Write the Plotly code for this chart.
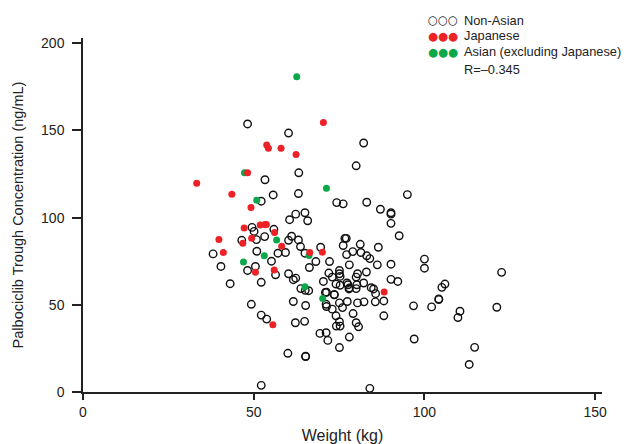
import plotly.graph_objects as go

# Non-Asian (weight kg, concentration ng/mL)
nonasian_w = [48.2, 60.2, 82.2, 80.0, 63.2, 53.3, 63.1, 55.7, 95.0, 52.2, 74.3, 76.2, 83.1, 87.1,
              90.2, 90.2, 65.0, 62.3, 60.5, 65.8, 90.2, 49.5, 50.1, 55.9, 92.6, 61.1, 53.2, 76.7,
              77.1, 46.5, 50.8, 60.2, 63.1, 81.2, 76.2, 86.5, 63.7, 69.6, 50.9, 38.1, 57.1, 59.3,
              65.0, 79.0, 81.4, 77.2, 83.1, 84.0, 100.0, 68.2, 55.2, 72.2, 40.4, 50.5, 66.3, 78.0,
              86.2, 90.2, 100.0, 48.2, 75.1, 122.6, 60.2, 72.0, 75.1, 56.4, 62.3, 61.6, 73.0, 75.3,
              80.0, 80.4, 83.0, 90.2, 92.2, 70.4, 43.1, 52.2, 74.1, 77.3, 75.3, 82.2, 106.0, 105.1,
              63.8, 65.1, 66.1, 77.9, 80.0, 84.4, 85.1, 71.3, 73.6, 73.6, 85.7, 104.2, 104.2, 88.1,
              77.4, 75.1, 80.4, 85.6, 82.3, 61.6, 49.3, 71.2, 71.3, 65.2, 76.0, 73.0, 96.8, 102.1,
              121.2, 110.4, 109.8, 52.2, 74.1, 88.1, 79.1, 53.8, 64.9, 62.2, 75.1, 80.0, 74.2, 75.3,
              80.7, 69.4, 71.2, 71.7, 78.0, 97.0, 75.1, 114.7, 60.0, 65.2, 65.2, 113.1, 52.2, 84.0,
              78.0, 80.2, 77.6, 71.0]
nonasian_c = [153.7, 148.5, 142.8, 129.7, 125.7, 121.7, 113.8, 113.0, 113.2, 109.4, 108.6, 107.9, 108.8, 104.8,
              102.8, 102.0, 102.8, 102.0, 98.8, 98.2, 96.7, 94.4, 92.1, 93.3, 89.6, 89.3, 89.1, 88.1,
              88.1, 87.0, 87.4, 87.0, 87.2, 84.7, 84.0, 83.0, 83.4, 83.0, 80.7, 79.2, 79.6, 80.0,
              79.6, 80.5, 80.0, 78.8, 78.1, 76.5, 76.2, 74.8, 75.0, 74.8, 72.0, 72.0, 71.4, 72.9,
              72.9, 73.3, 71.0, 69.7, 69.7, 68.6, 67.8, 68.2, 67.8, 67.2, 65.3, 64.4, 65.9, 66.3,
              65.9, 67.8, 68.8, 64.6, 63.4, 63.4, 62.1, 62.9, 61.9, 62.5, 61.2, 62.5, 61.9, 60.0,
              59.3, 58.3, 58.1, 59.1, 59.3, 59.8, 59.1, 57.2, 55.7, 55.9, 56.4, 53.4, 53.0, 52.2,
              51.9, 51.1, 51.1, 51.7, 51.7, 51.9, 50.3, 50.3, 49.0, 49.6, 48.4, 47.5, 49.4, 48.8,
              48.6, 46.3, 42.7, 44.1, 43.7, 43.7, 45.0, 41.8, 40.5, 39.7, 40.3, 39.7, 37.8, 37.8,
              37.4, 33.6, 34.0, 29.6, 31.5, 30.4, 25.5, 25.6, 22.2, 20.5, 20.3, 15.8, 3.8, 2.1,
              59.6, 61.5, 61.5, 57.1]

# Japanese
japanese_w = [70.4, 53.8, 54.3, 58.0, 62.4, 48.2, 33.3, 43.6, 49.2, 51.9, 53.3, 53.7, 47.2, 56.1,
              49.4, 39.8, 46.8, 58.2, 41.1, 66.4, 70.1, 56.0, 50.5, 88.2, 55.6]
japanese_c = [154.6, 141.7, 139.8, 139.8, 136.2, 125.7, 119.7, 113.4, 105.8, 95.7, 96.1, 96.1, 94.0, 91.5,
              88.1, 87.4, 85.3, 83.6, 80.0, 80.0, 80.2, 69.9, 68.6, 57.4, 38.6]

# Asian (excluding Japanese)
asian_w = [62.6, 47.3, 71.3, 50.9, 56.7, 53.1, 47.0, 66.2, 65.0, 70.2]
asian_c = [180.8, 125.7, 116.8, 110.0, 87.2, 78.1, 74.6, 78.3, 60.4, 53.6]

legend_labels = ["Non-Asian", "Japanese", "Asian (excluding Japanese)"]
r_text = "R=\u20130.345"

RED = "#ec2227"
GREEN = "#0ca64b"
FONT = "Liberation Sans, Arial, sans-serif"

fig = go.Figure()
fig.add_trace(go.Scatter(x=nonasian_w, y=nonasian_c, mode="markers", name=legend_labels[0],
                         marker=dict(symbol="circle-open", size=7.5, color="#111111", line=dict(width=1.4))))
fig.add_trace(go.Scatter(x=asian_w, y=asian_c, mode="markers", name=legend_labels[2],
                         marker=dict(symbol="circle", size=7, color=GREEN)))
fig.add_trace(go.Scatter(x=japanese_w, y=japanese_c, mode="markers", name=legend_labels[1],
                         marker=dict(symbol="circle", size=7, color=RED)))

# page has an 8px body margin; plot area in page pixels: x 83-602, y 38-392
OFF = 8
L, R, T, B = 83, 602, 38, 392
W, H = 632 - OFF, 444 - OFF
def px(x):
    return (x - L) / (R - L)
def py(y):
    return (B - y) / (B - T)

sym_rows = [("\u25cb\u25cb\u25cb", "#111111", 20.5), ("\u25cf\u25cf\u25cf", RED, 36), ("\u25cf\u25cf\u25cf", GREEN, 52)]
for (s, c, yy), lab in zip(sym_rows, legend_labels):
    fig.add_annotation(x=px(426), y=py(yy), xref="paper", yref="paper", text=s, showarrow=False,
                       xanchor="left", yanchor="middle", font=dict(family="DejaVu Sans", size=11.5, color=c))
    fig.add_annotation(x=px(462), y=py(yy), xref="paper", yref="paper", text=lab, showarrow=False,
                       xanchor="left", yanchor="middle", font=dict(family=FONT, size=12.8, color="#222222"))
fig.add_annotation(x=px(462), y=py(69), xref="paper", yref="paper", text=r_text, showarrow=False,
                   xanchor="left", yanchor="middle", font=dict(family=FONT, size=12.8, color="#222222"))

fig.update_layout(
    width=W, height=H,
    margin=dict(l=L - OFF, r=W - (R - OFF), t=T - OFF, b=H - (B - OFF)),
    plot_bgcolor="white", paper_bgcolor="white",
    showlegend=False,
    font=dict(family=FONT, size=14, color="#222222"),
)
fig.update_xaxes(range=[0, 152], tickvals=[0, 50, 100, 150], showgrid=False, zeroline=False,
                 showline=True, linecolor="#222222", linewidth=1.5, ticks="outside", ticklen=6,
                 tickwidth=1.5, tickcolor="#222222", tickfont=dict(size=14), automargin=False,
                 title=dict(text="Weight (kg)", font=dict(size=16), standoff=12))
fig.update_yaxes(range=[0, 203], tickvals=[0, 50, 100, 150, 200], showgrid=False, zeroline=False,
                 showline=True, linecolor="#222222", linewidth=1.5, ticks="outside", ticklen=9,
                 tickwidth=1.5, tickcolor="#222222", tickfont=dict(size=14), automargin=False,
                 ticklabelstandoff=5,
                 title=dict(text="Palbociclib Trough Concentration (ng/mL)", font=dict(size=14.5), standoff=14))

fig.write_html("out.html")
